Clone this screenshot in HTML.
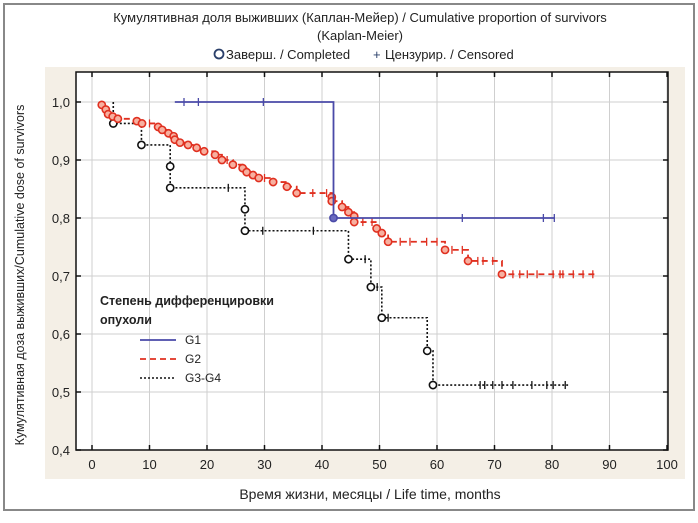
<!DOCTYPE html>
<html><head><meta charset="utf-8">
<style>
body{margin:0;background:#fff;}
svg text{font-family:"Liberation Sans","DejaVu Sans",sans-serif;}
</style></head>
<body>
<svg id="chart" width="698" height="518" xmlns="http://www.w3.org/2000/svg">
<rect x="4" y="4" width="690" height="506" fill="#fff" stroke="#888" stroke-width="2"/>
<rect x="45" y="67" width="640" height="412" fill="#f4efe6"/>
<rect x="76" y="72" width="592" height="378" fill="#fff"/>
<text x="360" y="22" font-size="13" text-anchor="middle" fill="#222">Кумулятивная доля выживших (Каплан-Мейер) / Cumulative proportion of survivors</text>
<text x="360" y="40" font-size="13" text-anchor="middle" fill="#222">(Kaplan-Meier)</text>
<g>
<circle cx="219" cy="54" r="4.5" fill="none" stroke="#2a3f6a" stroke-width="1.8"/>
<text x="226" y="59" font-size="13" fill="#222">Заверш. / Completed</text>
<text x="373" y="59" font-size="13" fill="#2a3f6a">+</text>
<text x="385" y="59" font-size="13" fill="#222">Цензурир. / Censored</text>
</g>
<g id="grid"></g>
<g id="axes"></g>
<g id="series"></g>
<rect x="76" y="72" width="592" height="378" fill="none" stroke="#111" stroke-width="1.5"/>
<text transform="translate(24,275) rotate(-90)" font-size="12.5" text-anchor="middle" fill="#222">Кумулятивная доза выживших/Cumulative dose of survivors</text>
<text x="370" y="499" font-size="14" text-anchor="middle" fill="#222">Время жизни, месяцы / Life time, months</text>
<g>
<text x="100" y="305" font-size="12.5" font-weight="bold" fill="#222">Степень дифференцировки</text>
<text x="100" y="324" font-size="12.5" font-weight="bold" fill="#222">опухоли</text>
<line x1="140" y1="340" x2="176" y2="340" stroke="#4a4aa8" stroke-width="1.8"/>
<text x="185" y="344" font-size="12" fill="#222">G1</text>
<line x1="140" y1="359" x2="176" y2="359" stroke="#e03020" stroke-width="1.8" stroke-dasharray="6,4"/>
<text x="185" y="363" font-size="12" fill="#222">G2</text>
<line x1="140" y1="378" x2="176" y2="378" stroke="#111" stroke-width="1.6" stroke-dasharray="2,2"/>
<text x="185" y="382" font-size="12" fill="#222">G3-G4</text>
</g>
</svg>
<script>
const xTicks=[0,10,20,30,40,50,60,70,80,90,100];
const yTicks=[0.4,0.5,0.6,0.7,0.8,0.9,1.0];
const yTickLabels=["0,4","0,5","0,6","0,7","0,8","0,9","1,0"];
const g1Start=14.4, g1End=80.5;
const g1EventTimes=[42];
const g1EventSurv=[0.8];
const g1Censor=[16,18.5,29.8,64.4,78.5,80.4];
const g2Start=1.5, g2End=88;
const g2EventTimes=[1.7,2.4,2.8,3.6,4.5,7.8,8.7,11.5,12.2,13.3,14.2,14.4,15.3,16.7,18.2,19.5,21.4,22.6,24.5,26.2,26.9,28,29,31.5,33.9,35.6,41.7,41.7,43.5,44.6,45.6,45.6,49.5,50.4,51.5,61.4,65.4,71.3];
const g2EventSurv=[0.995,0.987,0.979,0.975,0.971,0.967,0.963,0.957,0.952,0.946,0.941,0.935,0.930,0.926,0.921,0.915,0.909,0.900,0.892,0.886,0.879,0.874,0.869,0.862,0.854,0.843,0.836,0.829,0.819,0.810,0.803,0.793,0.782,0.774,0.759,0.745,0.726,0.703];
const g2Censor=[10,17,23.5,30,38.4,40.8,47.1,48.7,53.6,55.3,58.2,60,62.6,64.4,67.1,68,69.7,73.2,74.4,75.7,77.4,80.2,81.4,81.9,83.7,85.4,87.1];
const g3Start=3.7, g3End=82.8;
const g3EventTimes=[3.7,8.6,13.6,13.6,26.6,26.6,44.6,48.5,50.4,58.3,59.3];
const g3EventSurv=[0.963,0.926,0.889,0.852,0.815,0.778,0.729,0.681,0.628,0.571,0.512];
const g3Censor=[23.7,29.7,38.5,47.5,49.6,51.5,67.5,68.3,69.7,71.3,73.2,76.5,79.1,80.2,82.3];

const NS="http://www.w3.org/2000/svg";
const X=v=>92+v*5.75;
const Y=v=>450-(v-0.4)*580;
function mk(tag,attrs,parent){const e=document.createElementNS(NS,tag);for(const k in attrs)e.setAttribute(k,attrs[k]);parent.appendChild(e);return e;}
const grid=document.getElementById('grid'),axes=document.getElementById('axes'),ser=document.getElementById('series');
xTicks.forEach(t=>{
  const l=mk('line',{x1:X(t),x2:X(t),y1:72,y2:450,stroke:'#cfcfcf','stroke-width':1},grid);
  
  
  [[450,445],[72,77]].forEach(p=>{mk('line',{x1:X(t),x2:X(t),y1:p[0],y2:p[1],stroke:'#111','stroke-width':1.5},axes);});
  const tx=mk('text',{x:X(t),y:469,'font-size':13,'text-anchor':'middle',fill:'#222'},axes);
  tx.textContent=t;
  
  
});
yTicks.forEach((t,i)=>{
  const l=mk('line',{x1:76,x2:668,y1:Y(t),y2:Y(t),stroke:'#cfcfcf','stroke-width':1},grid);
  
  
  mk('line',{x1:76,x2:81,y1:Y(t),y2:Y(t),stroke:'#111','stroke-width':1.5},axes);
  mk('line',{x1:663,x2:668,y1:Y(t),y2:Y(t),stroke:'#111','stroke-width':1.5},axes);
  const tx=mk('text',{x:70,y:Y(t)+5,'font-size':13,'text-anchor':'end',fill:'#222'},axes);
  tx.textContent=yTickLabels[i];
  
  
});
function survAt(t,times,surv){let s=1;for(let i=0;i<times.length;i++){if(times[i]<=t)s=surv[i];}return s;}
function drawSeries(name,start,end,times,surv,cens,color,dash,width,fill){
  const g=mk('g',{},ser);
  
  
  let s=1,d='M'+X(start)+','+Y(survAt(start-1e-9,times,surv));
  let prev=survAt(start-1e-9,times,surv);
  times.forEach((t,i)=>{d+=' L'+X(t)+','+Y(prev)+' L'+X(t)+','+Y(surv[i]);prev=surv[i];});
  d+=' L'+X(end)+','+Y(prev);
  const p=mk('path',{d:d,fill:'none',stroke:color,'stroke-width':width,'stroke-dasharray':dash},g);
  
  
  cens.forEach(t=>{
    const v=survAt(t,times,surv);
    const c=mk('line',{x1:X(t),x2:X(t),y1:Y(v)-4,y2:Y(v)+4,stroke:color,'stroke-width':1.3},g);
    
    
  });
  times.forEach((t,i)=>{
    const c=mk('circle',{cx:X(t),cy:Y(surv[i]),r:3.6,fill:fill,stroke:color,'stroke-width':1.6},g);
    
    
  });
}
drawSeries('g3-g4-series',g3Start,g3End,g3EventTimes,g3EventSurv,g3Censor,'#111','2,2',1.6,'#fff');
drawSeries('g2-series',g2Start,g2End,g2EventTimes,g2EventSurv,g2Censor,'#e03020','6,4',1.8,'#f7b0a0');
drawSeries('g1-series',g1Start,g1End,g1EventTimes,g1EventSurv,g1Censor,'#4a4aa8','none',1.8,'#6a6ac0');
</script>
</body></html>
